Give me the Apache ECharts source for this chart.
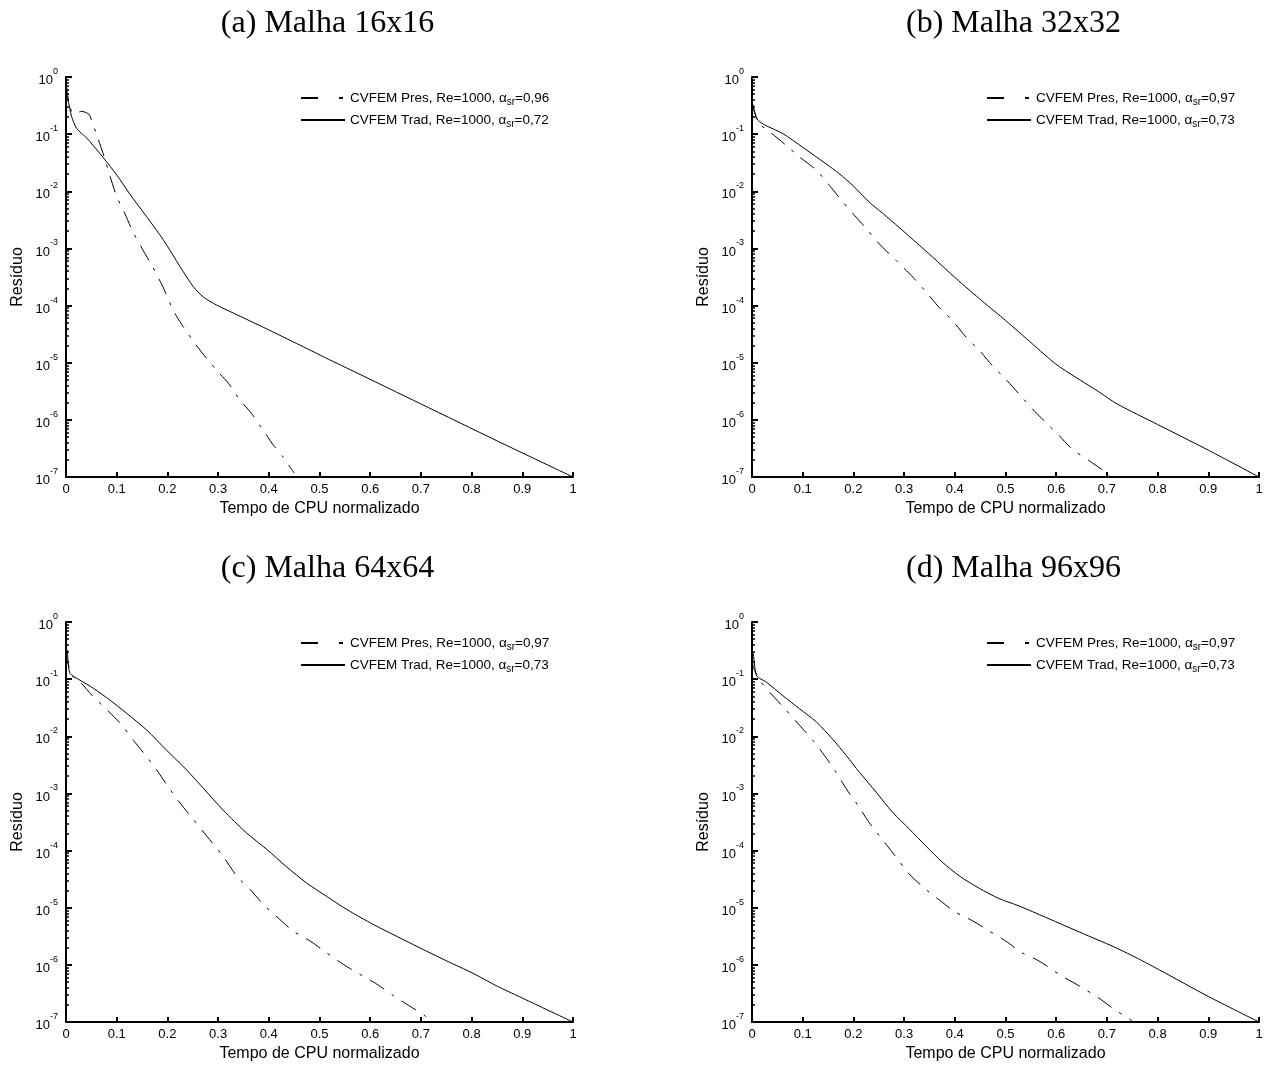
<!DOCTYPE html>
<html>
<head>
<meta charset="utf-8">
<script src="https://cdn.jsdelivr.net/npm/echarts@6/dist/echarts.min.js"></script>
<style>
html,body{margin:0;padding:0;background:#fff;}
#chart{width:1270px;height:1070px;}
</style>
</head>
<body>
<div id="chart"></div>
<script>
// ---------- DATA ----------
const panelTitles = ['(a) Malha 16x16', '(b) Malha 32x32', '(c) Malha 64x64', '(d) Malha 96x96'];
const presNames = ['CVFEM Pres, Re=1000, α_sr=0,96', 'CVFEM Pres, Re=1000, α_sr=0,97', 'CVFEM Pres, Re=1000, α_sr=0,97', 'CVFEM Pres, Re=1000, α_sr=0,97'];
const tradNames = ['CVFEM Trad, Re=1000, α_sr=0,72', 'CVFEM Trad, Re=1000, α_sr=0,73', 'CVFEM Trad, Re=1000, α_sr=0,73', 'CVFEM Trad, Re=1000, α_sr=0,73'];
const xTitle = 'Tempo de CPU normalizado';
const yTitle = 'Resíduo';
const yDecades = [1e-7, 1e-6, 1e-5, 1e-4, 1e-3, 1e-2, 1e-1, 1];

// (a) 16x16
const aTradX = [0, 0.004, 0.011, 0.021, 0.041, 0.067, 0.093, 0.107, 0.126, 0.159, 0.192, 0.225, 0.251, 0.271, 0.297, 0.33, 0.396, 0.461, 0.527, 0.56, 0.7, 0.85, 1.0];
const aTradY = [0.56, 0.40, 0.204, 0.126, 0.085, 0.0457, 0.0234, 0.0158, 8.9e-3, 3.6e-3, 1.41e-3, 4.8e-4, 2.14e-4, 1.41e-4, 1.02e-4, 7.4e-5, 3.9e-5, 2.04e-5, 1.05e-5, 7.6e-6, 1.9e-6, 4.3e-7, 1e-7];
const aPresX = [0, 0.005, 0.012, 0.02, 0.03, 0.045, 0.05, 0.064, 0.075, 0.087, 0.1, 0.116, 0.132, 0.152, 0.169, 0.191, 0.202, 0.218, 0.231, 0.254, 0.277, 0.3, 0.32, 0.343, 0.366, 0.389, 0.409, 0.428, 0.45];
const aPresY = [0.794, 0.398, 0.24, 0.229, 0.251, 0.224, 0.178, 0.0794, 0.0407, 0.0182, 8.1e-3, 4.1e-3, 1.95e-3, 9.3e-4, 5.1e-4, 2.14e-4, 1.26e-4, 6.5e-5, 4.3e-5, 2.19e-5, 1.2e-5, 6.9e-6, 4.4e-6, 2.24e-6, 1.29e-6, 6.6e-7, 3.6e-7, 2.24e-7, 1.17e-7];

// (b) 32x32
const bTradX = [0, 0.002, 0.005, 0.012, 0.028, 0.061, 0.1, 0.146, 0.172, 0.199, 0.231, 0.258, 0.29, 0.323, 0.356, 0.402, 0.454, 0.5, 0.553, 0.599, 0.638, 0.684, 0.72, 0.8, 0.9, 1.0];
const bTradY = [0.389, 0.316, 0.24, 0.174, 0.141, 0.102, 0.0589, 0.0302, 0.0204, 0.0126, 6.5e-3, 4.1e-3, 2.34e-3, 1.29e-3, 7.1e-4, 3.0e-4, 1.2e-4, 5.5e-5, 2.14e-5, 9.5e-6, 5.6e-6, 3.1e-6, 1.9e-6, 8.3e-7, 2.95e-7, 1e-7];
const bPresX = [0, 0.005, 0.012, 0.035, 0.068, 0.094, 0.127, 0.153, 0.179, 0.205, 0.228, 0.251, 0.284, 0.317, 0.343, 0.369, 0.395, 0.422, 0.448, 0.474, 0.5, 0.526, 0.553, 0.579, 0.605, 0.631, 0.664, 0.697, 0.705];
const bPresY = [0.355, 0.251, 0.158, 0.11, 0.063, 0.0398, 0.0234, 0.0126, 6.5e-3, 3.55e-3, 2.09e-3, 1.2e-3, 6.2e-4, 3.16e-4, 1.74e-4, 9.3e-5, 5.5e-5, 2.82e-5, 1.66e-5, 8.9e-6, 5.2e-6, 2.88e-6, 1.55e-6, 9.1e-7, 5.4e-7, 3.1e-7, 1.95e-7, 1.23e-7, 1.07e-7];

// (c) 64x64
const cTradX = [0, 0.002, 0.004, 0.008, 0.028, 0.054, 0.087, 0.12, 0.159, 0.198, 0.238, 0.271, 0.31, 0.356, 0.396, 0.435, 0.475, 0.514, 0.554, 0.606, 0.659, 0.711, 0.751, 0.803, 0.849, 0.895, 1.0];
const cTradY = [0.282, 0.324, 0.214, 0.126, 0.0955, 0.0692, 0.0427, 0.0251, 0.0129, 5.75e-3, 2.57e-3, 1.23e-3, 5.1e-4, 2.04e-4, 1.05e-4, 5.2e-5, 2.69e-5, 1.58e-5, 9.3e-6, 5.1e-6, 2.95e-6, 1.74e-6, 1.17e-6, 7.1e-7, 4.3e-7, 2.75e-7, 1e-7];
const cPresX = [0, 0.003, 0.014, 0.028, 0.051, 0.074, 0.107, 0.133, 0.159, 0.179, 0.199, 0.225, 0.251, 0.278, 0.31, 0.337, 0.363, 0.389, 0.422, 0.448, 0.481, 0.514, 0.547, 0.58, 0.613, 0.646, 0.678, 0.708, 0.711];
const cPresY = [0.316, 0.2, 0.11, 0.0891, 0.0525, 0.0331, 0.017, 8.5e-3, 4.4e-3, 2.57e-3, 1.41e-3, 6.8e-4, 3.5e-4, 1.78e-4, 7.9e-5, 3.55e-5, 2.09e-5, 1.15e-5, 6.2e-6, 3.9e-6, 2.63e-6, 1.62e-6, 1.02e-6, 6.8e-7, 4.6e-7, 2.88e-7, 1.9e-7, 1.29e-7, 1.2e-7];

// (d) 96x96
const dTradX = [0, 0.002, 0.009, 0.028, 0.061, 0.094, 0.127, 0.159, 0.186, 0.212, 0.245, 0.277, 0.31, 0.343, 0.376, 0.409, 0.448, 0.487, 0.527, 0.579, 0.618, 0.664, 0.71, 0.75, 0.802, 0.9, 1.0];
const dTradY = [0.2, 0.282, 0.115, 0.0891, 0.0513, 0.0302, 0.0178, 8.9e-3, 4.6e-3, 2.34e-3, 1.05e-3, 4.7e-4, 2.4e-4, 1.2e-4, 6.2e-5, 3.6e-5, 2.19e-5, 1.45e-5, 1.07e-5, 6.8e-6, 4.8e-6, 3.2e-6, 2.14e-6, 1.45e-6, 8.3e-7, 2.8e-7, 1e-7];
const dPresX = [0, 0.003, 0.018, 0.038, 0.068, 0.094, 0.12, 0.143, 0.166, 0.186, 0.209, 0.231, 0.251, 0.277, 0.31, 0.343, 0.376, 0.402, 0.435, 0.468, 0.5, 0.533, 0.566, 0.612, 0.645, 0.684, 0.71, 0.746, 0.75];
const dPresY = [0.224, 0.158, 0.0891, 0.055, 0.0282, 0.0155, 8.5e-3, 4.6e-3, 2.34e-3, 1.2e-3, 6.2e-4, 3.1e-4, 1.82e-4, 9.3e-5, 3.9e-5, 2.09e-5, 1.23e-5, 8.3e-6, 5.9e-6, 3.9e-6, 2.63e-6, 1.62e-6, 1.17e-6, 6.3e-7, 4.3e-7, 2.63e-7, 1.78e-7, 1.1e-7, 1.05e-7];

// ---------- BUILD ----------
const tradX = [aTradX, bTradX, cTradX, dTradX];
const tradY = [aTradY, bTradY, cTradY, dTradY];
const presX = [aPresX, bPresX, cPresX, dPresX];
const presY = [aPresY, bPresY, cPresY, dPresY];

const grids = [
  {left: 66, top: 77, width: 507, height: 400},
  {left: 752, top: 77, width: 507, height: 400},
  {left: 66, top: 622, width: 507, height: 400},
  {left: 752, top: 622, width: 507, height: 400}
];

const minorVals = [];
for (let e = -7; e < 0; e++) {
  for (let k = 2; k <= 9; k++) minorVals.push(+(k * Math.pow(10, e)).toPrecision(3));
}

const FONT = 'Liberation Sans, Arial, sans-serif';
const pair = (xs, ys) => xs.map((x, i) => [x, ys[i]]);
const DASH = [17, 9, 3, 9];

const xAxes = [], yAxes = [], series = [], legends = [], graphics = [];
grids.forEach((g, i) => {
  xAxes.push({
    type: 'value', gridIndex: i, min: 0, max: 1, interval: 0.1,
    name: xTitle, nameLocation: 'middle', nameGap: 24,
    nameTextStyle: {fontFamily: FONT, fontSize: 16, color: '#000'},
    axisLine: {show: true, onZero: false, lineStyle: {color: '#000', width: 2}},
    axisTick: {show: true, inside: true, length: 5, lineStyle: {color: '#000', width: 2}},
    axisLabel: {fontFamily: FONT, fontSize: 13, color: '#000', margin: 6,
      formatter: v => String(+v.toFixed(1))},
    splitLine: {show: false}
  });
  yAxes.push({
    type: 'log', logBase: 10, gridIndex: i, min: 1e-7, max: 1, position: 'left',
    name: yTitle, nameLocation: 'middle', nameGap: 40,
    nameTextStyle: {fontFamily: FONT, fontSize: 16, color: '#000'},
    axisLine: {show: true, onZero: false, lineStyle: {color: '#000', width: 2}},
    axisTick: {show: true, inside: true, length: 6, customValues: yDecades, lineStyle: {color: '#000', width: 2}},
    axisLabel: {
      customValues: yDecades, margin: 8, color: '#000',
      formatter: v => '{b|10}{s|' + Math.round(Math.log10(v)) + '}',
      rich: {
        b: {fontFamily: FONT, fontSize: 13, color: '#000', lineHeight: 20, verticalAlign: 'bottom'},
        s: {fontFamily: FONT, fontSize: 9, color: '#000', lineHeight: 10, verticalAlign: 'top'}
      }
    },
    splitLine: {show: false}
  });
  yAxes.push({
    type: 'log', logBase: 10, gridIndex: i, min: 1e-7, max: 1, position: 'left', offset: 0,
    axisLine: {show: false},
    axisTick: {show: true, inside: true, length: 3, customValues: minorVals, lineStyle: {color: '#000', width: 1.5}},
    axisLabel: {show: false},
    splitLine: {show: false}
  });
  series.push({
    type: 'line', name: presNames[i], xAxisIndex: i, yAxisIndex: 2 * i,
    data: pair(presX[i], presY[i]), symbol: 'none', smooth: 0.25,
    itemStyle: {color: '#000'},
    lineStyle: {color: '#000', width: 1, type: DASH}, z: 3
  });
  series.push({
    type: 'line', name: tradNames[i], xAxisIndex: i, yAxisIndex: 2 * i,
    data: pair(tradX[i], tradY[i]), symbol: 'none', smooth: 0.25,
    itemStyle: {color: '#000'},
    lineStyle: {color: '#000', width: 1, type: 'solid'}, z: 3
  });
  legends.push({
    left: g.left + 234, top: g.top + 12, orient: 'vertical', itemGap: 4, padding: 0,
    itemWidth: 44, itemHeight: 14, selectedMode: false,
    itemStyle: {opacity: 0},
    data: [
      {name: presNames[i], itemStyle: {opacity: 0}, lineStyle: {type: [17, 21, 4, 40]}},
      {name: tradNames[i], itemStyle: {opacity: 0}}
    ],
    formatter: n => {
      const p = n.split('_sr');
      return '{a|' + p[0] + '}{sub|sr}{a|' + p[1] + '}';
    },
    textStyle: {
      rich: {
        a: {fontFamily: FONT, fontSize: 13.5, color: '#000', lineHeight: 16},
        sub: {fontFamily: FONT, fontSize: 10, color: '#000', lineHeight: 16, padding: [8, 0, 0, 0]}
      }
    }
  });
  graphics.push({
    type: 'text', x: g.left + g.width / 2 + 8, y: g.top - 69,
    style: {text: panelTitles[i], font: '32px "Liberation Serif", "Times New Roman", serif', fill: '#000', align: 'center', verticalAlign: 'top'}
  });
});

const chart = echarts.init(document.getElementById('chart'), null, {renderer: 'canvas'});
chart.setOption({
  backgroundColor: '#fff',
  animation: false,
  grid: grids,
  xAxis: xAxes,
  yAxis: yAxes,
  legend: legends,
  series: series,
  graphic: graphics
});
</script>
</body>
</html>
